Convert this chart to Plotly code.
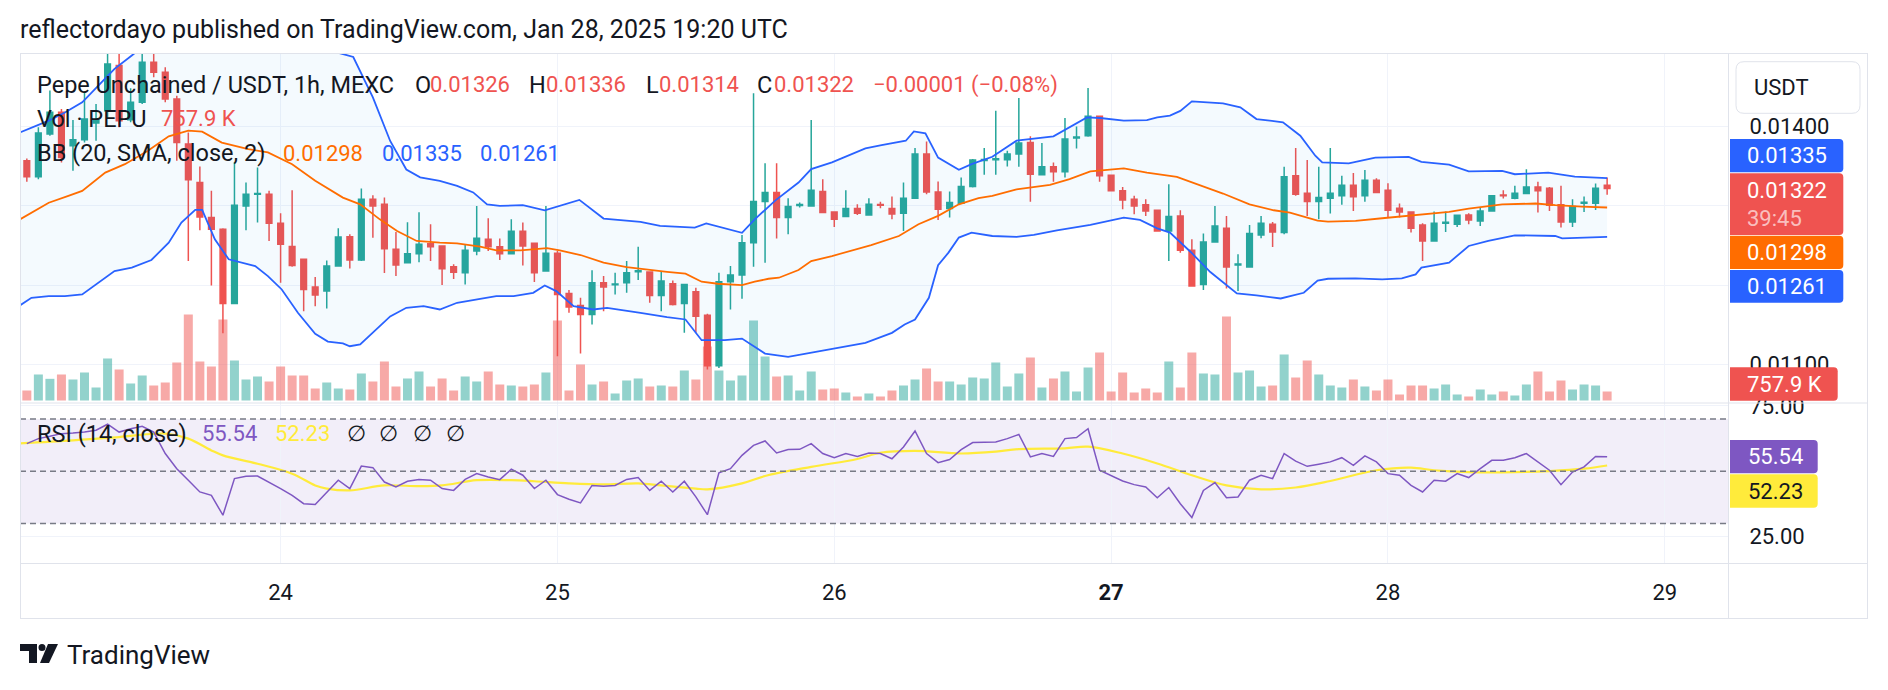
import plotly.graph_objects as go
import pandas as pd

# ---------------- data (prices in units of 0.00001 USDT) ----------------
START = "2025-01-23 02:00"          # first hourly candle, UTC
DAY0 = pd.Timestamp("2025-01-24")   # reference for BB / RSI-MA hour offsets

OPEN = [1357.0,1336.7,1390.7,1418.1,1376.0,1383.5,1404.6,1420.2,1477.2,1408.9,1430.8,1481.4,1468.8,1435.0,1378.1,1329.5,1285.2,1270.5,1176.8,1300.0,1314.8,1314.8,1278.1,1248.6,1232.5,1197.5,1192.4,1224.0,
        1261.2,1231.7,1308.4,1302.1,1245.2,1228.3,1239.7,1252.3,1249.4,1223.2,1215.6,1243.1,1257.8,1248.5,1239.7,1268.0,1252.7,1217.7,1240.1,1189.5,1174.3,1162.9,1203.0,1200.4,1203.0,1216.9,1216.5,1186.9,
        1201.7,1176.8,1191.6,1162.0,1098.3,1204.2,1212.7,1253.6,1305.5,1316.9,1285.2,1300.4,1300.0,1318.1,1292.4,1286.5,1296.6,1288.6,1301.7,1296.6,1290.7,1309.7,1365.4,1317.7,1296.6,1303.4,1324.5,1357.4,1358.2,
        1358.2,1365.4,1380.2,1339.2,1349.4,1343.0,1385.7,1388.6,1413.1,1338.8,1319.0,1308.4,1301.3,1294.5,1268.4,1287.3,1243.9,1200.9,1254.4,1271.7,1225.3,1222.8,1263.3,1276.8,1266.3,1338.0,1316.0,1305.5,
        1309.7,1312.7,1326.2,1312.7,1332.5,1319.8,1297.1,1292.4,1275.9,1255.7,1278.1,1276.8,1288.6,1281.0,1293.7,1313.9,1309.7,1315.6,1324.0,1322.4,1301.3,1279.8,1303.4,1303.4,1326.0]
HIGH = [1359.9,1399.2,1445.6,1422.4,1408.4,1443.5,1428.7,1497.0,1500.0,1448.5,1493.2,1493.2,1475.1,1439.2,1392.8,1349.8,1319.0,1271.7,1354.9,1329.5,1348.5,1319.0,1290.7,1319.8,1232.5,1210.1,1231.2,1271.7,
        1264.1,1321.9,1313.5,1310.5,1267.1,1279.3,1292.0,1276.8,1249.4,1226.2,1251.9,1300.0,1284.4,1258.7,1283.1,1278.9,1252.7,1300.0,1243.1,1193.7,1184.0,1218.6,1211.4,1215.6,1230.4,1248.5,1216.5,1216.5,
        1205.9,1200.9,1196.6,1163.7,1215.6,1224.1,1263.3,1442.2,1354.0,1354.0,1309.7,1304.2,1408.4,1333.8,1292.4,1319.8,1302.1,1309.7,1305.1,1311.8,1329.5,1373.0,1381.4,1330.8,1318.1,1335.9,1359.1,1373.0,1420.2,
        1369.6,1436.3,1387.8,1379.3,1354.9,1411.0,1400.4,1448.9,1413.1,1338.8,1324.0,1312.7,1308.4,1294.5,1327.4,1294.5,1257.8,1265.0,1300.0,1287.4,1238.8,1275.9,1287.4,1279.8,1349.4,1373.0,1357.8,1349.4,
        1373.0,1338.0,1341.4,1345.2,1335.0,1328.7,1303.0,1293.3,1278.1,1292.8,1292.8,1288.2,1290.7,1297.9,1313.9,1319.8,1325.3,1346.4,1330.4,1324.0,1325.3,1308.4,1311.8,1328.3,1336.0]
LOW = [1330.4,1333.8,1388.6,1354.9,1344.3,1380.2,1382.3,1411.8,1399.2,1405.5,1428.7,1462.4,1430.8,1357.0,1230.4,1269.2,1199.6,1139.3,1176.8,1269.2,1279.0,1255.7,1203.0,1223.2,1167.1,1173.4,1170.5,1223.2,
       1221.1,1230.4,1259.9,1215.2,1211.4,1227.4,1228.7,1230.4,1200.0,1207.6,1200.9,1237.6,1243.1,1231.7,1239.7,1224.9,1203.8,1217.7,1110.2,1165.0,1113.5,1150.2,1167.1,1188.2,1190.3,1206.3,1177.6,1167.1,
       1174.3,1139.7,1139.7,1093.3,1095.4,1169.2,1182.7,1223.2,1228.3,1258.7,1264.1,1297.9,1300.0,1290.7,1273.4,1286.5,1288.6,1288.6,1297.1,1283.1,1268.4,1309.3,1314.8,1282.3,1285.2,1303.4,1323.2,1339.2,1339.2,
       1349.8,1349.4,1305.1,1339.2,1330.4,1335.9,1372.6,1387.3,1330.4,1319.0,1295.8,1289.5,1287.4,1268.4,1230.4,1240.9,1198.8,1193.7,1254.4,1195.8,1192.4,1222.8,1259.1,1248.1,1264.1,1312.7,1287.4,1283.1,
       1290.3,1301.3,1293.7,1305.1,1316.0,1285.2,1285.2,1266.3,1230.4,1255.7,1267.1,1273.4,1276.8,1274.7,1292.8,1309.3,1308.4,1315.6,1291.6,1293.7,1272.6,1273.4,1292.4,1294.9,1314.0]
CLOSE = [1336.7,1392.0,1418.1,1361.2,1383.5,1409.7,1408.9,1479.3,1407.6,1430.8,1481.4,1468.8,1435.0,1380.2,1332.9,1286.1,1270.5,1176.8,1300.9,1314.8,1315.6,1278.1,1251.5,1224.9,1194.5,1187.4,1224.0,1260.8,
         1231.7,1308.4,1300.0,1246.0,1225.3,1239.7,1251.5,1248.5,1220.7,1216.1,1243.9,1259.1,1248.5,1239.7,1268.0,1249.4,1215.6,1240.1,1188.2,1172.2,1162.9,1203.0,1197.5,1201.3,1215.6,1218.2,1186.9,1205.1,
         1175.5,1200.9,1160.8,1098.3,1204.2,1212.7,1253.6,1305.5,1316.9,1285.2,1299.2,1301.7,1319.8,1291.6,1283.1,1296.6,1290.7,1302.1,1300.9,1289.9,1309.7,1365.4,1317.7,1295.8,1304.2,1324.5,1357.8,1358.7,1359.5,
         1365.4,1379.3,1340.1,1349.4,1343.0,1384.4,1386.9,1413.1,1338.0,1319.0,1307.6,1300.0,1293.7,1268.4,1286.5,1243.9,1198.8,1254.4,1274.7,1222.8,1226.6,1265.0,1278.1,1267.1,1336.7,1314.8,1305.5,1310.5,
         1316.0,1326.2,1311.4,1332.5,1316.9,1294.5,1292.4,1271.7,1255.7,1278.1,1279.3,1288.2,1282.3,1293.7,1312.7,1312.7,1316.0,1324.0,1319.0,1300.9,1279.8,1299.2,1304.6,1322.4,1322.0]
VOLUME_K = [842,2190,1825,2190,1768,2358,1095,3537,2610,1432,2105,1263,1516,3200,7242,3284,2863,6821,3368,1768,2021,1600,2863,2105,2105,1010,1516,1010,
            926,2274,1600,3284,1179,1853,2442,1179,1853,842,2021,1600,2442,1347,1263,1179,1347,2358,6737,842,3032,1347,1600,589,1684,1853,1179,1263,
            1179,2526,1768,4547,2526,1684,2105,6737,3705,2021,2105,842,2442,926,1010,674,337,589,337,842,1263,1768,2695,1600,1600,1347,1937,1853,3200,
            1179,2274,3621,1095,1853,2442,758,2779,4042,758,2358,674,1010,674,3284,1095,4042,2274,2190,7074,2358,2526,1179,1263,3874,1937,3368,2190,
            1263,1095,1768,1179,842,1768,505,1263,1263,1010,1347,505,337,926,505,758,421,1347,2442,758,1684,926,1347,1263,757.9]

# Bollinger Bands (20, SMA, close, 2); hours after 2025-01-24 00:00
BB_UP_H = [-22.6,-21.6,-20.1,-18.7,-17.2,-15.8,-14.4,-12.9,-11,-9,-7.2,-5,-2,1,3.5,5.1,6.3,8.0,9.5,10.9,12.1,13.8,15.3,16.7,17.9,19.0,21.0,22.9,23.9,25.9,28.0,29.7,31.2,32.9,35.9,36.9,40.0,41.1,42.9,44.9,46.0,47.8,50.7,52.1,54.2,54.9,55.9,57.0,58.8,59.9,61.7,63.8,67.0,69.9,71.05,73.1,75.1,76.0,77.1,78.0,79.0,81.7,83.2,84.6,86.9,88.4,89.7,90.3,92.6,94.9,97.8,98.9,101.3,103.0,105.9,107.0,109.9,112.2,115.0]
BB_UP = [1392.8,1399,1407.6,1418,1430.8,1452,1473,1490,1512,1506,1496,1508,1515,1512,1503,1493,1488,1437,1382,1346,1336,1331.7,1325.3,1317,1302,1300,1300.9,1294.5,1299,1307.6,1284,1282,1279.8,1274.7,1272.6,1278,1266,1283,1307,1329.5,1346.4,1354.9,1372.6,1376.8,1382.3,1394,1391.6,1361,1345.6,1352.7,1362,1382.3,1387.8,1411.8,1411,1407.6,1408.4,1411.8,1414,1420,1432,1429.5,1424.5,1409.7,1405.5,1388.6,1363.3,1354.9,1353.6,1361,1362,1355.7,1352,1343.5,1344.3,1340,1342,1337,1335]
BB_MID_H = [-22.6,-20.1,-18.4,-17.2,-15.2,-13.5,-11.5,-9.7,-8.0,-6.8,-5.1,-2.8,-1.1,1.0,3.0,5.4,6.9,8.6,10.1,11.8,13.8,15.3,17.3,18.7,20.8,21.9,23.1,24.2,26.0,28.0,30.0,33.5,35.1,36.5,37.9,40.0,41.1,42.3,43.2,44.9,46.0,47.8,49.5,51.2,53.6,55.3,57.0,58.8,60.5,61.7,63.8,66.7,68.4,70.2,73.1,75.1,77.7,79.4,81.7,84.0,86.1,87.5,89.9,90.8,93.2,95.5,98.4,101.3,103.0,105.9,108.8,110.5,112.8,115.0]
BB_MID = [1283,1304,1312.7,1319,1342,1352.7,1369.6,1387.8,1395,1393.7,1380,1371.7,1367.5,1352.7,1331.7,1310.5,1302,1283,1268.4,1255.7,1253.6,1252.8,1248.5,1243.9,1243.9,1245,1246.7,1243.9,1238,1228.3,1222.8,1216.8,1214.4,1204.3,1201.7,1200,1204.3,1208,1209.3,1219,1230.4,1236.7,1243.9,1250.6,1262,1276.8,1287.4,1302,1309.7,1312.7,1321,1326.6,1333.8,1343.5,1347.3,1342,1336.7,1327.4,1315.6,1302,1294.5,1291.6,1281.5,1280.2,1281,1284.4,1288.6,1292.4,1296.6,1302,1303,1300.9,1299.2,1298]
BB_LO_H = [-22.6,-21.6,-20.1,-18.7,-17.2,-15.8,-14.4,-12.9,-11.2,-9.7,-8.6,-7.4,-6.8,-5.7,-4.5,-2.2,-1.1,0.1,1.5,3.0,4.1,5.4,6.0,6.9,8.0,9.5,10.9,12.4,13.8,15.3,17.3,18.7,20.2,21.9,22.9,23.9,25.4,27.1,28.3,29.4,31.2,33.5,35.1,36.5,38.5,40.0,42.0,44.0,46.0,48.3,50.7,53.0,54.1,55.0,56.2,57.0,57.9,58.8,59.9,61.7,63.8,65.3,67.3,70.2,73.1,74.5,76.0,77.1,78.9,80.6,82.9,84.6,86.7,88.7,89.9,90.8,93.2,95.5,97.2,98.4,98.9,101.3,103.0,104.7,107.0,110.5,111.1,115.0]
BB_LO = [1174.3,1184,1186,1186,1188.2,1203,1217.8,1222,1231.7,1253.6,1278.9,1295,1295,1257.8,1232.6,1224,1211.4,1194.5,1165,1138.4,1128.7,1126.5,1122.8,1125,1139.7,1160.4,1171.3,1173.4,1169.2,1177.7,1182.7,1186,1186,1190.3,1199.6,1192.4,1173.4,1169.2,1171.3,1169.2,1165,1159.7,1156.6,1130.4,1130.4,1132.5,1113.5,1109.3,1114.4,1120,1127,1139.7,1150.2,1156.6,1184,1225,1241,1260,1266.3,1262,1260.8,1263.3,1269.2,1276,1285.2,1282.3,1271.7,1266.3,1241.8,1216.5,1189.5,1187,1183.1,1190.3,1205.7,1208,1208.5,1207.2,1208.5,1213.5,1222,1228.3,1249.4,1255.7,1262.9,1262,1259.1,1261]

# RSI (14, close), one value per candle
RSI = [60.6,62.5,63.4,64.4,64.6,65.0,65.7,68.0,65.0,66.3,67.2,65.0,56.8,51.0,46.6,42.1,40.8,33.2,
       47.2,48.1,48.2,45.9,43.4,40.8,37.6,37.3,42.1,46.6,43.4,52.0,51.4,45.9,44.0,46.2,46.9,46.6,43.4,42.7,46.9,49.1,47.8,46.8,50.8,48.5,43.4,46.6,41.1,39.3,37.9,44.6,44.3,44.6,46.9,47.6,42.7,46.2,42.1,46.2,40.2,
       33.4,
       49.4,51.0,56.1,59.9,61.6,57.0,58.3,58.4,60.6,56.8,55.2,56.8,55.7,57.0,56.8,54.8,59.3,
       65.4,
       56.8,53.3,54.5,58.3,61.0,61.0,61.2,62.5,64.1,55.5,56.8,55.7,62.5,62.9,
       66.3,
       50.4,48.2,46.3,44.9,44.0,39.9,43.8,37.6,
       32.3,
       42.7,45.7,39.9,40.2,46.6,48.5,47.2,56.8,53.9,51.9,52.7,53.6,55.2,52.3,55.9,53.6,49.1,48.5,44.6,42.1,46.6,46.2,49.1,47.6,51.0,54.2,54.2,55.2,56.8,53.6,50.4,44.9,49.7,51.7,55.7,
       55.54]
# RSI-based moving average (yellow)
RSI_MA_H = [-23,-18,-14,-10,-8,-6,-5,-2,1,3,4,6,9,12,14,17,20,22,25,28,31,33,36,37,40,42,46,50,52,55,59,62,64,68,70,73,76,79,82,85,88,91,95,98,100,103,107,110,113,115]
RSI_MA = [60.6,61.8,63.1,64.4,62.5,58.0,56.1,52.9,49.1,44.6,43.4,42.7,44.6,44.3,44.6,46.6,46.6,46.2,45.4,45.0,45.4,44.6,43.4,43.1,45.4,48.2,51.7,54.7,57.1,57.8,56.8,57.5,58.5,58.8,59.4,56.8,53.0,48.5,44.6,43.1,43.8,46.3,50.4,51.4,50.4,49.7,49.7,50.1,51.0,52.23]

PRICE_TICKS = [1100, 1200, 1300, 1400]
PRICE_TICK_SHOWN = [1100, 1400]          # the others sit behind the price tags
RSI_TICKS = [25, 75]
DAY_TICKS = ["2025-01-24", "2025-01-25", "2025-01-26", "2025-01-27", "2025-01-28", "2025-01-29"]
DAY_LABELS = ["24", "25", "26", "<b>27</b>", "28", "29"]

# ---------------- styling / geometry ----------------
PIP = 1e-5
GREEN, RED = "#26a69a", "#ef5350"
BLUE, ORANGE, PURPLE, YELLOW = "#2962ff", "#ff6d00", "#7e57c2", "#ffeb3b"
TXT = "#131722"
FRAME = "#e0e3eb"
GRID = "#f0f3fa"
FONT = "Roboto"
FS = 22          # axis / numbers
FS_T = 23.5      # legend titles
FS_H = 25        # header

W, H = 1888, 690
PL, PR, PT, PB = 20, 1728, 53, 563       # plot area in pixels
SPLIT = 403                              # price / RSI pane boundary


def fx(px):
    return (px - PL) / (PR - PL)


def fy(py):
    return (PB - py) / (PB - PT)


times = pd.date_range(START, periods=len(OPEN), freq="h")
hrs = lambda hs: [DAY0 + pd.Timedelta(hours=h) for h in hs]
o = [v * PIP for v in OPEN]
h = [v * PIP for v in HIGH]
l = [v * PIP for v in LOW]
c = [v * PIP for v in CLOSE]
vol_col = ["rgba(38,166,154,0.5)" if cc >= oo else "rgba(239,83,80,0.5)" for oo, cc in zip(OPEN, CLOSE)]

fig = go.Figure()

# volume (base axis y), price stuff on overlaying axis y3
fig.add_trace(go.Bar(x=times, y=VOLUME_K, marker=dict(color=vol_col, line=dict(width=0)),
                     xaxis="x", yaxis="y", hoverinfo="skip"))
fig.add_trace(go.Scatter(x=hrs(BB_UP_H), y=[v * PIP for v in BB_UP], mode="lines",
                         line=dict(color=BLUE, width=1.8), xaxis="x", yaxis="y3"))
fig.add_trace(go.Scatter(x=hrs(BB_LO_H), y=[v * PIP for v in BB_LO], mode="lines",
                         line=dict(color=BLUE, width=1.8), fill="tonexty",
                         fillcolor="rgba(33,150,243,0.05)", xaxis="x", yaxis="y3"))
fig.add_trace(go.Scatter(x=hrs(BB_MID_H), y=[v * PIP for v in BB_MID], mode="lines",
                         line=dict(color=ORANGE, width=1.8), xaxis="x", yaxis="y3"))
fig.add_trace(go.Candlestick(x=times, open=o, high=h, low=l, close=c, xaxis="x", yaxis="y3",
                             increasing=dict(line=dict(color=GREEN, width=1.5), fillcolor=GREEN),
                             decreasing=dict(line=dict(color=RED, width=1.5), fillcolor=RED),
                             whiskerwidth=0))
# RSI pane
fig.add_trace(go.Scatter(x=hrs(RSI_MA_H), y=RSI_MA, mode="lines", line=dict(color=YELLOW, width=2.2, shape="spline"),
                         xaxis="x", yaxis="y2"))
fig.add_trace(go.Scatter(x=times, y=RSI, mode="lines", line=dict(color=PURPLE, width=1.5),
                         xaxis="x", yaxis="y2"))

x_lo = DAY0 + pd.Timedelta(hours=(PL - 280.6) / 11.535)
x_hi = DAY0 + pd.Timedelta(hours=(PR - 280.6) / 11.535)
price_top = 1400 + (126.7 - PT) / 0.792
price_bot = price_top - (SPLIT - PT) / 0.792
rsi_top = 70 + (419 - SPLIT) / 2.615
rsi_bot = rsi_top - (PB - SPLIT) / 2.615
vol_per_px = 84.2
vol_bot = -(SPLIT - 400.5) * vol_per_px
vol_top = (400.5 - PT) * vol_per_px
dom_split = fy(SPLIT)

fig.update_layout(
    width=W, height=H, margin=dict(l=PL, r=W - PR, t=PT, b=H - PB),
    paper_bgcolor="white", plot_bgcolor="white", showlegend=False,
    font=dict(family=FONT, size=FS, color=TXT), bargap=0.22,
    xaxis=dict(type="date", range=[x_lo, x_hi], anchor="y2", tickvals=DAY_TICKS, ticktext=DAY_LABELS,
               showgrid=True, gridcolor=GRID, gridwidth=1, zeroline=False, showline=False,
               ticks="outside", ticklen=10, tickcolor="rgba(0,0,0,0)", rangeslider=dict(visible=False),
               tickfont=dict(size=FS, color=TXT, family=FONT)),
    yaxis=dict(domain=[dom_split, 1], range=[vol_bot, vol_top], visible=False, fixedrange=True),
    yaxis3=dict(overlaying="y", side="right", range=[price_bot * PIP, price_top * PIP],
                tickvals=[v * PIP for v in PRICE_TICKS],
                ticktext=[f"{v * PIP:.5f}" if v in PRICE_TICK_SHOWN else "" for v in PRICE_TICKS],
                showgrid=True, gridcolor=GRID, zeroline=False, showline=False,
                ticks="outside", ticklen=16, tickcolor="rgba(0,0,0,0)",
                tickfont=dict(size=FS, color=TXT, family=FONT)),
    yaxis2=dict(domain=[0, dom_split], side="right", range=[rsi_bot, rsi_top], tickvals=RSI_TICKS,
                ticktext=[f"{v:.2f}" for v in RSI_TICKS], showgrid=True, gridcolor=GRID, zeroline=False,
                showline=False, ticks="outside", ticklen=16, tickcolor="rgba(0,0,0,0)",
                tickfont=dict(size=FS, color=TXT, family=FONT)),
)

shapes = []
# RSI background band and levels
shapes.append(dict(type="rect", xref="paper", yref="y2", x0=0, x1=1, y0=30, y1=70,
                   fillcolor="rgba(126,87,194,0.1)", line=dict(width=0), layer="below"))
for lvl in (70, 50, 30):
    shapes.append(dict(type="line", xref="paper", yref="y2", x0=0, x1=1, y0=lvl, y1=lvl,
                       line=dict(color="#787b86", width=1.5, dash="6px,4px"), layer="above"))


def hline(py, x0, x1, color=FRAME, w=1):
    shapes.append(dict(type="line", xref="paper", yref="paper", x0=fx(x0), x1=fx(x1), y0=fy(py), y1=fy(py),
                       line=dict(color=color, width=w), layer="above"))


def vline(px, y0, y1, color=FRAME, w=1):
    shapes.append(dict(type="line", xref="paper", yref="paper", x0=fx(px), x1=fx(px), y0=fy(y0), y1=fy(y1),
                       line=dict(color=color, width=w), layer="above"))


# frame
hline(53.5, 20, 1868)
hline(SPLIT, 20, 1868)
hline(PB + 0.5, 20, 1868)
hline(618.5, 20, 1868)
vline(20.5, 53, 618)
vline(1867.5, 53, 618)
vline(1728.5, 53, 618)


def path_from(points):
    d = ""
    for cmd, pts in points:
        if cmd == "L":
            for a, b in pts:
                d += f"L{fx(a):.6f},{fy(b):.6f} "
        else:
            d += cmd + " ".join(f"{fx(a):.6f},{fy(b):.6f}" for a, b in pts) + " "
    return d + "Z"


def tag(x0, y0, x1, y1, color, r=4, left_round=False, line=None):
    if left_round:
        pts = [("M", [(x0 + r, y0)]), ("L", [(x1 - r, y0)]), ("Q", [(x1, y0), (x1, y0 + r)]),
               ("L", [(x1, y1 - r)]), ("Q", [(x1, y1), (x1 - r, y1)]), ("L", [(x0 + r, y1)]),
               ("Q", [(x0, y1), (x0, y1 - r)]), ("L", [(x0, y0 + r)]), ("Q", [(x0, y0), (x0 + r, y0)])]
    else:
        pts = [("M", [(x0, y0)]), ("L", [(x1 - r, y0)]), ("Q", [(x1, y0), (x1, y0 + r)]),
               ("L", [(x1, y1 - r)]), ("Q", [(x1, y1), (x1 - r, y1)]), ("L", [(x0, y1)])]
    shapes.append(dict(type="path", xref="paper", yref="paper", path=path_from(pts), fillcolor=color,
                       line=dict(color=line or color, width=1 if line else 0), layer="above"))


# USDT box and price tags
tag(1736, 61.7, 1860, 113.3, "white", r=8, left_round=True, line=FRAME)
tag(1730, 139.0, 1843.3, 172.3, BLUE)
tag(1730, 173.3, 1843.3, 235.0, RED)
tag(1730, 235.7, 1843.3, 269.0, ORANGE)
tag(1730, 270.0, 1843.3, 302.7, BLUE)
tag(1730, 367.3, 1837.7, 400.7, RED)
tag(1730, 440.0, 1817.7, 473.3, PURPLE)
tag(1730, 474.3, 1817.7, 507.7, YELLOW)

# TradingView logo mark
shapes.append(dict(type="path", xref="paper", yref="paper",
                   path=path_from([("M", [(20, 644)]), ("L", [(37, 644), (37, 663), (29, 663), (29, 651), (20, 651)])]),
                   fillcolor=TXT, line=dict(width=0), layer="above"))
shapes.append(dict(type="circle", xref="paper", yref="paper", x0=fx(38.5), x1=fx(45.5), y0=fy(651), y1=fy(644),
                   fillcolor=TXT, line=dict(width=0), layer="above"))
shapes.append(dict(type="path", xref="paper", yref="paper",
                   path=path_from([("M", [(48, 644)]), ("L", [(58, 644), (49, 663), (40, 663)])]),
                   fillcolor=TXT, line=dict(width=0), layer="above"))

ann = []


def text(s, px, py, color=TXT, size=FS, anchor="left"):
    ann.append(dict(text=s, x=fx(px), y=fy(py), xref="paper", yref="paper", xanchor=anchor, yanchor="middle",
                    showarrow=False, font=dict(family=FONT, size=size, color=color)))


text("reflectordayo published on TradingView.com, Jan 28, 2025 19:20 UTC", 18, 30, TXT, FS_H)
# legend rows
text("Pepe Unchained / USDT, 1h, MEXC", 35, 84.5, TXT, FS_T)
for s, px, col in [("O", 413, TXT), ("0.01326", 428, RED), ("H", 527, TXT), ("0.01336", 544, RED),
                   ("L", 644, TXT), ("0.01314", 657, RED), ("C", 755, TXT), ("0.01322", 772, RED),
                   ("\u22120.00001 (\u22120.08%)", 871, RED)]:
    text(s, px, 84.5, col, FS_T if col == TXT else FS)
text("Vol \u00b7 PEPU", 35, 118.5, TXT, FS_T)
text("757.9 K", 159, 118.5, RED)
text("BB (20, SMA, close, 2)", 35, 153, TXT, FS_T)
text("0.01298", 281, 153, ORANGE)
text("0.01335", 380, 153, BLUE)
text("0.01261", 478, 153, BLUE)
text("RSI (14, close)", 35, 433.5, TXT, FS_T)
text("55.54", 200, 433.5, PURPLE)
text("52.23", 272.5, 433.5, YELLOW)
for px in (344.5, 377, 410.5, 443.5):
    text("\u2205", px, 433.5)
# right scale tags
text("USDT", 1752, 87)
text("0.01335", 1745, 156, "white")
text("0.01322", 1745, 190.7, "white")
text("39:45", 1745, 219, "rgba(255,255,255,0.65)")
text("0.01298", 1745, 252.3, "white")
text("0.01261", 1745, 286.3, "white")
text("757.9 K", 1745, 384, "white")
text("55.54", 1746, 456.7, "white")
text("52.23", 1746, 491, TXT)
# footer
text("TradingView", 65, 655, TXT, 26)

fig.update_layout(shapes=shapes, annotations=ann)
fig.write_html("out.html")
